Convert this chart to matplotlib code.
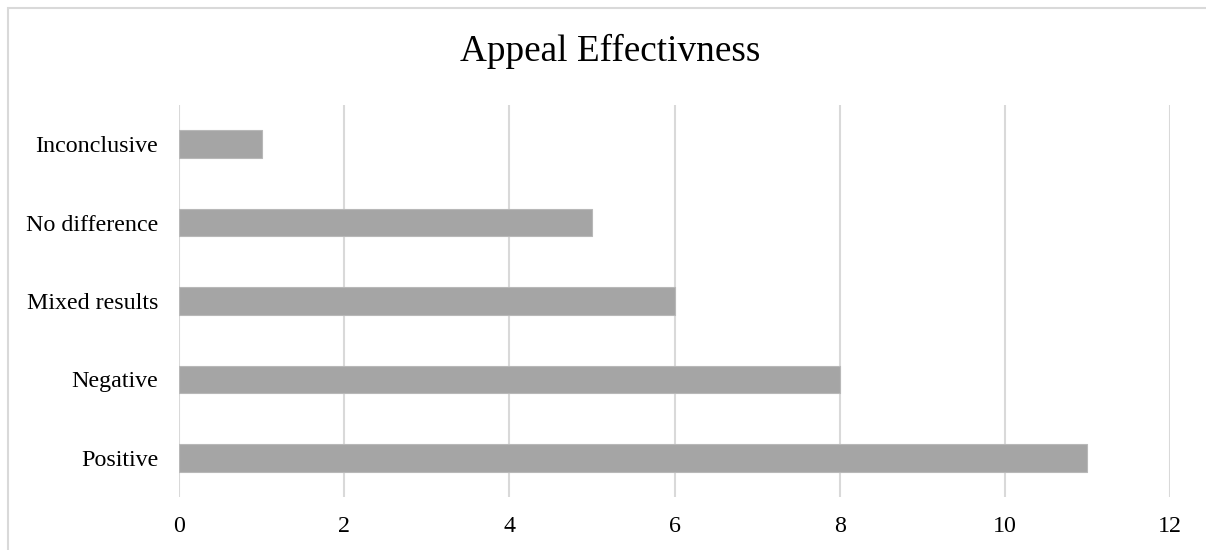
import matplotlib.pyplot as plt
from matplotlib.patches import Rectangle

# Appeal outcome counts
categories = ["Positive", "Negative", "Mixed results", "No difference", "Inconclusive"]
counts = [11, 8, 6, 5, 1]
xticks = [0, 2, 4, 6, 8, 10, 12]

plt.rcParams['font.family'] = ['Liberation Serif', 'DejaVu Serif']

fig = plt.figure(figsize=(12.06, 5.5), dpi=100)
ax = fig.add_axes([179 / 1206, 1 - 497 / 550, (1170 - 179) / 1206, (497 - 105) / 550])

# Outer chart frame (only top and left edges fall inside the image)
fig.patches.append(Rectangle((8 / 1206, -0.1), 1.2, 1 - 8 / 550 + 0.1,
                             transform=fig.transFigure, fill=False,
                             edgecolor='#D9D9D9', linewidth=1.5))

ypos = range(len(categories))
ax.barh(ypos, counts, height=0.35, color='#A5A5A5', edgecolor='#B8B8B8',
        linewidth=0.8, zorder=3)

ax.set_xlim(0, 12)
ax.set_ylim(-0.5, len(categories) - 0.5)
ax.set_xticks(xticks)
ax.set_yticks(list(ypos))
ax.set_yticklabels(categories)
ax.tick_params(axis='both', length=0, labelsize=17.3, colors='#000000')
ax.tick_params(axis='x', pad=14)
ax.tick_params(axis='y', pad=15)

ax.grid(True, axis='x', color='#D9D9D9', linewidth=1.5, zorder=0)
ax.grid(False, axis='y')
for s in ax.spines.values():
    s.set_visible(False)

fig.text(610 / 1206, 1 - 51 / 550, "Appeal Effectivness", ha='center', va='center',
         fontsize=26.8)

fig.savefig("out.png", dpi=100)
